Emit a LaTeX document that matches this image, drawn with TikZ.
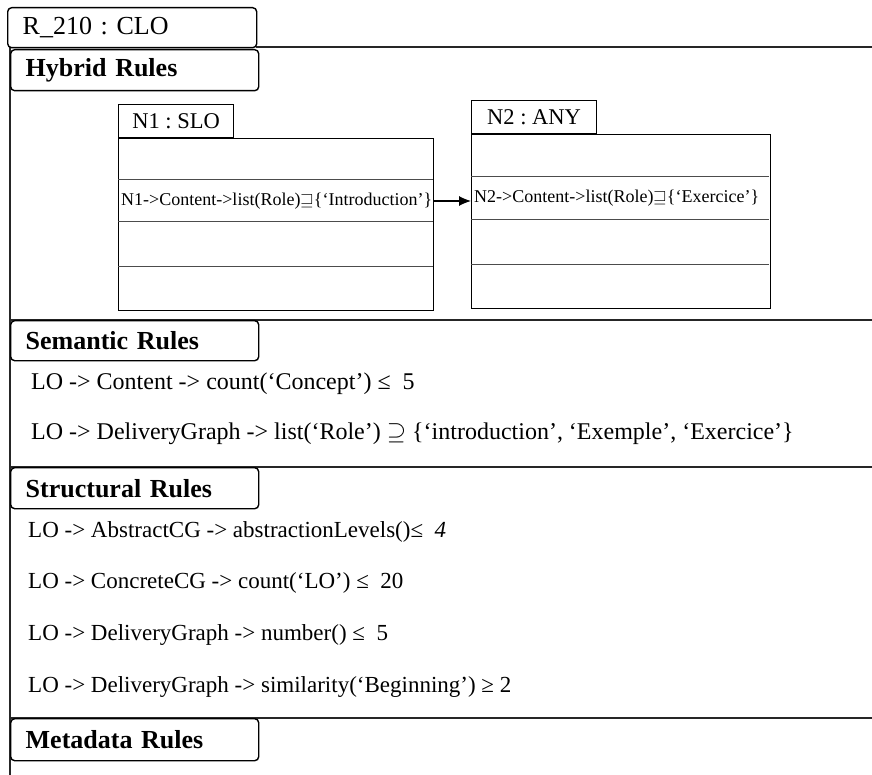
\documentclass[tikz,border=0pt]{standalone}
\usepackage{fontspec}
\setmainfont{Liberation Serif}
\usetikzlibrary{arrows.meta,positioning}

\begin{document}
\begin{tikzpicture}[x=1pt,y=-1pt,
  frame/.style={line width=1.6pt,black!85},
  tab/.style={draw,line width=1.4pt,rounded corners=4pt,anchor=north west,align=left,minimum height=40pt,text width=218pt,inner xsep=15pt,inner ysep=0pt,font=\fontsize{26}{28}\selectfont\bfseries},
  objtab/.style={draw,line width=1.1pt,anchor=south west,minimum height=33pt,inner ysep=0pt,font=\fontsize{22.5}{24}\selectfont},
  objbody/.style={draw,line width=1.1pt,anchor=north west,inner sep=0pt},
  rowline/.style={line width=1pt,black!70},
  slot/.style={anchor=west,inner sep=0pt,font=\fontsize{18}{20}\selectfont},
  ruleline/.style={anchor=west,inner sep=0pt,font=\fontsize{23}{25}\selectfont},
  flow/.style={-{Latex[length=12pt,width=10pt]},line width=1.1pt}
]
\useasboundingbox (0,0) rectangle (872,775);

% outer frame and section separators
\draw[frame] (256,47) -- (872,47);
\draw[frame] (10,47) -- (10,775);
\foreach \y in {320,467,718} \draw[frame] (10,\y) -- (872,\y);

% section tabs
\node[tab,text width=219pt,font=\fontsize{26}{28}\selectfont] (title) at (7,7) {R\_210 :\ CLO};
\node[tab,minimum height=41pt] (hybrid) at (10,49) {Hybrid Rules};
\node[tab] (semantic) at (10,320) {Semantic Rules};
\node[tab,minimum height=41pt] (structural) at (10,467) {Structural Rules};
\node[tab,minimum height=42pt] (metadata) at (10,718) {Metadata Rules};

% hybrid rule objects
\node[objbody,minimum width=315pt,minimum height=172pt] (n1body) at (118,138) {};
\node[objtab,minimum width=115pt] (n1tab) at (n1body.north west) {N1 :\ SLO};
\foreach \y in {180,222,267} \draw[rowline] (118,\y) -- (433,\y);
\node[slot] (n1slot) at (121,201) {N1->Content->list(Role)$\sqsupseteq$\{`Introduction'\}};

\node[objbody,minimum width=299pt,minimum height=174pt] (n2body) at (471,134) {};
\node[objtab,minimum width=125pt] (n2tab) at (n2body.north west) {N2 :\ ANY};
\foreach \y in {177,220,265} \draw[rowline] (471,\y) -- (769,\y);
\node[slot] (n2slot) at (474,198) {N2->Content->list(Role)$\sqsupseteq$\{`Exercice'\}};

\draw[flow] (n1body.east |- n1slot) -- (n2body.west |- n1slot);

% semantic rules
\node[ruleline,font=\fontsize{24}{26}\selectfont] (sem1) at (31,384) {LO -> Content -> count(`Concept') ≤\ \ 5};
\node[ruleline,font=\fontsize{24}{26}\selectfont,below=50pt of sem1.west,anchor=west] (sem2) {LO -> DeliveryGraph -> list(`Role') $\supseteq$ \{`introduction', `Exemple', `Exercice'\}};

% structural rules
\node[ruleline] (str1) at (28,532) {LO -> AbstractCG -> abstractionLevels()≤\ \ \textit{4}};
\node[ruleline,below=51pt of str1.west,anchor=west] (str2) {LO -> ConcreteCG -> count(`LO') ≤\ \ 20};
\node[ruleline,below=52pt of str2.west,anchor=west] (str3) {LO -> DeliveryGraph -> number() ≤\ \ 5};
\node[ruleline,below=52pt of str3.west,anchor=west] (str4) {LO -> DeliveryGraph -> similarity(`Beginning') ≥ 2};
\end{tikzpicture}
\end{document}
